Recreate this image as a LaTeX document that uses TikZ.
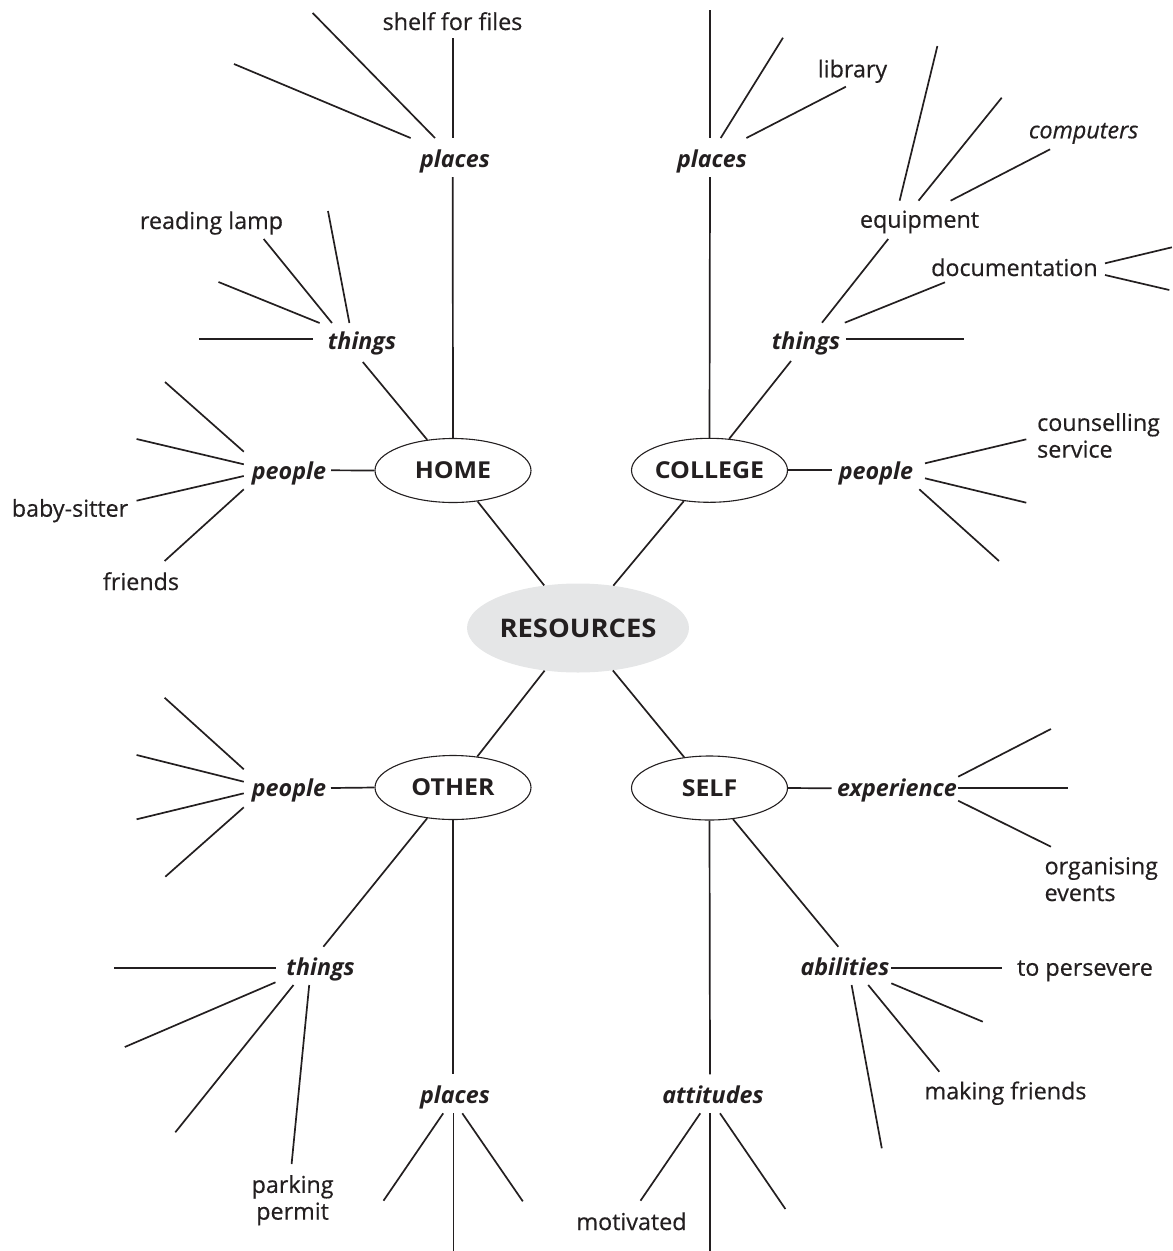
\documentclass[tikz,border=0pt]{standalone}
\usepackage{fontspec}
\setmainfont{Open Sans}
\newfontfamily\lblfont[FakeBold=0.5]{Open Sans}
\newfontfamily\hubfont[FakeStretch=1.07]{Open Sans}
\usetikzlibrary{shapes.geometric}
\definecolor{resgray}{HTML}{E5E6E7}
\definecolor{ink}{HTML}{231F20}
\begin{document}
\begin{tikzpicture}[x=1pt,y=-1pt,
  br/.style={line width=1.7pt, draw=ink},
  lbl/.style={inner sep=0pt, anchor=base, text=ink, font=\fontsize{23.3}{26.7}\selectfont\lblfont},
  cat/.style={lbl, font=\fontsize{23.3}{26.7}\selectfont\bfseries\itshape},
  hub/.style={ellipse, draw=ink, line width=1.1pt, minimum width=156pt, minimum height=64pt,
    inner sep=0pt, text=ink, font=\fontsize{23.3}{26.7}\selectfont\hubfont\bfseries}]
\useasboundingbox (0,0) rectangle (1173,1251);

% ---------- nodes ----------
\node[ellipse, fill=resgray, minimum width=214pt, minimum height=89pt, inner sep=0pt,
  text=ink, font=\fontsize{25.6}{28}\selectfont\hubfont\bfseries] (res) at (578,628) {RESOURCES};
\node[hub] (home) at (453,470.5) {HOME};
\node[hub] (college) at (709.5,470.3) {COLLEGE};
\node[hub] (other) at (453,787.5) {OTHER};
\node[hub] (self) at (709.5,788) {SELF};

\node[lbl] (shelf) at (452.5,30) {shelf for files};
\node[cat] (hplaces) at (455,167) {places};
\node[lbl] (lamp) at (211.5,229) {reading lamp};
\node[cat] (hthings) at (362,349.3) {things};
\node[cat] (hpeople) at (289,479.3) {people};
\node[lbl] (baby) at (70,516.7) {baby-sitter};
\node[lbl] (friends) at (141,590) {friends};

\node[cat] (opeople) at (289,796.5) {people};
\node[cat] (othings) at (320.6,975.7) {things};
\node[lbl, anchor=north, align=center] (parking) at (292.6,1175) {parking\\permit};
\node[cat] (oplaces) at (455,1103.3) {places};
\node[lbl] (motiv) at (631.5,1230) {motivated};

\node[cat] (cplaces) at (712,167) {places};
\node[lbl] (library) at (852.5,77.3) {library};
\node[lbl, font=\fontsize{23.3}{26.7}\selectfont\lblfont\itshape] (computers) at (1083.6,138.3) {computers};
\node[lbl] (equip) at (919.5,227.7) {equipment};
\node[lbl] (docu) at (1014.4,276) {documentation};
\node[cat] (cthings) at (806,349.3) {things};
\node[cat] (cpeople) at (876,479.3) {people};
\node[lbl, anchor=north west, align=left] (couns) at (1037,413) {counselling\\service};

\node[cat] (exper) at (897,796.7) {experience};
\node[lbl, anchor=north west, align=left] (organ) at (1044.4,857) {organising\\events};
\node[cat] (abil) at (845,975.7) {abilities};
\node[lbl] (persev) at (1085,975.7) {to persevere};
\node[lbl] (making) at (1005.5,1099.3) {making friends};
\node[cat] (attit) at (713,1103.3) {attitudes};

% ---------- coordinates ----------
% home / places
\coordinate (hpl0) at (452.7,38);   \coordinate (hpl0e) at (452.7,138);
\coordinate (hpl1) at (312.7,13);   \coordinate (hpl1e) at (435,138);
\coordinate (hpl2) at (234,64);     \coordinate (hpl2e) at (410.6,138);
\coordinate (hplD) at (452.7,177);
% home / things
\coordinate (ht1) at (263.7,239);   \coordinate (ht1e) at (332,323);
\coordinate (ht2) at (328,211);     \coordinate (ht2e) at (349.4,323);
\coordinate (ht3) at (218.5,282);   \coordinate (ht3e) at (319.6,323);
\coordinate (ht4) at (199,339);     \coordinate (ht4e) at (312.7,339);
\coordinate (htD) at (362.8,362);
% home / people
\coordinate (hp1) at (165,382);     \coordinate (hp1e) at (243.8,451.7);
\coordinate (hp2) at (136.6,439);   \coordinate (hp2e) at (243.8,464.3);
\coordinate (hp3) at (136.6,500.7); \coordinate (hp3e) at (243.8,476);
\coordinate (hp4) at (164.6,561);   \coordinate (hp4e) at (243.8,489.3);
\coordinate (hpR) at (331,470.3);
% other / people
\coordinate (op1) at (164.6,697.7); \coordinate (op1e) at (243.8,769.3);
\coordinate (op2) at (136.6,755);   \coordinate (op2e) at (243.8,781.7);
\coordinate (op3) at (136.6,819.3); \coordinate (op3e) at (243.8,793.3);
\coordinate (op4) at (165.3,876.7); \coordinate (op4e) at (243.8,807.3);
\coordinate (opR) at (331,788);
% other / things
\coordinate (otU) at (323.4,946.7);
\coordinate (ot1) at (114,968.3);   \coordinate (ot1e) at (275.5,968.3);
\coordinate (ot2) at (124.8,1047);  \coordinate (ot2e) at (275.5,982.3);
\coordinate (ot3) at (175.3,1132.3);\coordinate (ot3e) at (293.5,985);
\coordinate (ot4) at (291.6,1164);  \coordinate (ot4e) at (309.2,985);
% other / places
\coordinate (oplU) at (453,1074);
\coordinate (opl1) at (443.2,1113.3); \coordinate (opl1e) at (383.5,1200.7);
\coordinate (opl2) at (453.5,1113.3); \coordinate (opl2e) at (453.5,1251);
\coordinate (opl3) at (462.3,1113.3); \coordinate (opl3e) at (522.8,1201.3);
% college / places
\coordinate (cpl0) at (710,10);     \coordinate (cpl0e) at (710,138);
\coordinate (cpl1) at (720.7,138);  \coordinate (cpl1e) at (783,37.7);
\coordinate (cpl2) at (746.4,138);  \coordinate (cpl2e) at (845.9,86.7);
\coordinate (cplD) at (710,177);
% college / equipment
\coordinate (ce1) at (899.6,200.7); \coordinate (ce1e) at (937.4,46);
\coordinate (ce2) at (918.5,200.7); \coordinate (ce2e) at (1001.7,97.7);
\coordinate (ce3) at (950.6,200.7); \coordinate (ce3e) at (1050.1,149.3);
\coordinate (ceD) at (888.2,239);   \coordinate (ctU) at (822,322.7);
% college / documentation
\coordinate (ctd) at (844.8,322.7); \coordinate (cdL) at (945,282.3);
\coordinate (cd1) at (1105,263.3);  \coordinate (cd1e) at (1171.9,247.3);
\coordinate (cd2) at (1105,275);    \coordinate (cd2e) at (1169.3,290);
% college / things
\coordinate (ct1) at (845.9,339.3); \coordinate (ct1e) at (963.9,339.3);
\coordinate (ctD) at (791,361);
% college / people
\coordinate (cpL) at (831.5,470.3);
\coordinate (cp1) at (925,463.3);   \coordinate (cp1e) at (1026.3,439.3);
\coordinate (cp2) at (925,478.3);   \coordinate (cp2e) at (1026.3,502.7);
\coordinate (cp3) at (919.3,489.3); \coordinate (cp3e) at (999,561);
% self / experience
\coordinate (seL) at (831.5,788.3);
\coordinate (se1) at (958.2,776.7); \coordinate (se1e) at (1050.9,729);
\coordinate (se2) at (958.2,788.3); \coordinate (se2e) at (1067.9,788.3);
\coordinate (se3) at (958.2,800.7); \coordinate (se3e) at (1050.9,846.7);
% self / abilities
\coordinate (saU) at (838.3,946.7);
\coordinate (sa1) at (891.3,968.3); \coordinate (sa1e) at (1001.7,968.3);
\coordinate (sa2) at (891.3,983.3); \coordinate (sa2e) at (982.8,1021.7);
\coordinate (sa3) at (868.2,985);   \coordinate (sa3e) at (939.3,1071.7);
\coordinate (sa4) at (851.6,985);   \coordinate (sa4e) at (881.8,1148.3);
% self / attitudes
\coordinate (stU) at (710,1074.3);
\coordinate (st1) at (700.3,1113.3); \coordinate (st1e) at (640.5,1200.7);
\coordinate (st2) at (710,1113.3);   \coordinate (st2e) at (710,1251);
\coordinate (st3) at (720,1113.3);   \coordinate (st3e) at (785.4,1209);

% ---------- connectors ----------
\draw[br] (home) -- (res);
\draw[br] (college) -- (res);
\draw[br] (other) -- (res);
\draw[br] (self) -- (res);

\draw[br] (hpl0) -- (hpl0e);
\draw[br] (hpl1) -- (hpl1e);
\draw[br] (hpl2) -- (hpl2e);
\draw[br] (hplD) -- (home.north);
\draw[br] (ht1) -- (ht1e);
\draw[br] (ht2) -- (ht2e);
\draw[br] (ht3) -- (ht3e);
\draw[br] (ht4) -- (ht4e);
\draw[br] (htD) -- (home.130);
\draw[br] (hp1) -- (hp1e);
\draw[br] (hp2) -- (hp2e);
\draw[br] (hp3) -- (hp3e);
\draw[br] (hp4) -- (hp4e);
\draw[br] (hpR) -- (home.west);

\draw[br] (op1) -- (op1e);
\draw[br] (op2) -- (op2e);
\draw[br] (op3) -- (op3e);
\draw[br] (op4) -- (op4e);
\draw[br] (opR) -- (other.west);
\draw[br] (other.230) -- (otU);
\draw[br] (ot1) -- (ot1e);
\draw[br] (ot2) -- (ot2e);
\draw[br] (ot3) -- (ot3e);
\draw[br] (ot4) -- (ot4e);
\draw[br] (other.south) -- (oplU);
\draw[br] (opl1) -- (opl1e);
\draw[br] (opl2) -- (opl2e);
\draw[br] (opl3) -- (opl3e);

\draw[br] (cpl0) -- (cpl0e);
\draw[br] (cpl1) -- (cpl1e);
\draw[br] (cpl2) -- (cpl2e);
\draw[br] (cplD) -- (college.north);
\draw[br] (ce1) -- (ce1e);
\draw[br] (ce2) -- (ce2e);
\draw[br] (ce3) -- (ce3e);
\draw[br] (ceD) -- (ctU);
\draw[br] (ctd) -- (cdL);
\draw[br] (cd1) -- (cd1e);
\draw[br] (cd2) -- (cd2e);
\draw[br] (ct1) -- (ct1e);
\draw[br] (ctD) -- (college.58);
\draw[br] (college.east) -- (cpL);
\draw[br] (cp1) -- (cp1e);
\draw[br] (cp2) -- (cp2e);
\draw[br] (cp3) -- (cp3e);

\draw[br] (self.east) -- (seL);
\draw[br] (se1) -- (se1e);
\draw[br] (se2) -- (se2e);
\draw[br] (se3) -- (se3e);
\draw[br] (self.-53) -- (saU);
\draw[br] (sa1) -- (sa1e);
\draw[br] (sa2) -- (sa2e);
\draw[br] (sa3) -- (sa3e);
\draw[br] (sa4) -- (sa4e);
\draw[br] (self.south) -- (stU);
\draw[br] (st1) -- (st1e);
\draw[br] (st2) -- (st2e);
\draw[br] (st3) -- (st3e);
\end{tikzpicture}
\end{document}
